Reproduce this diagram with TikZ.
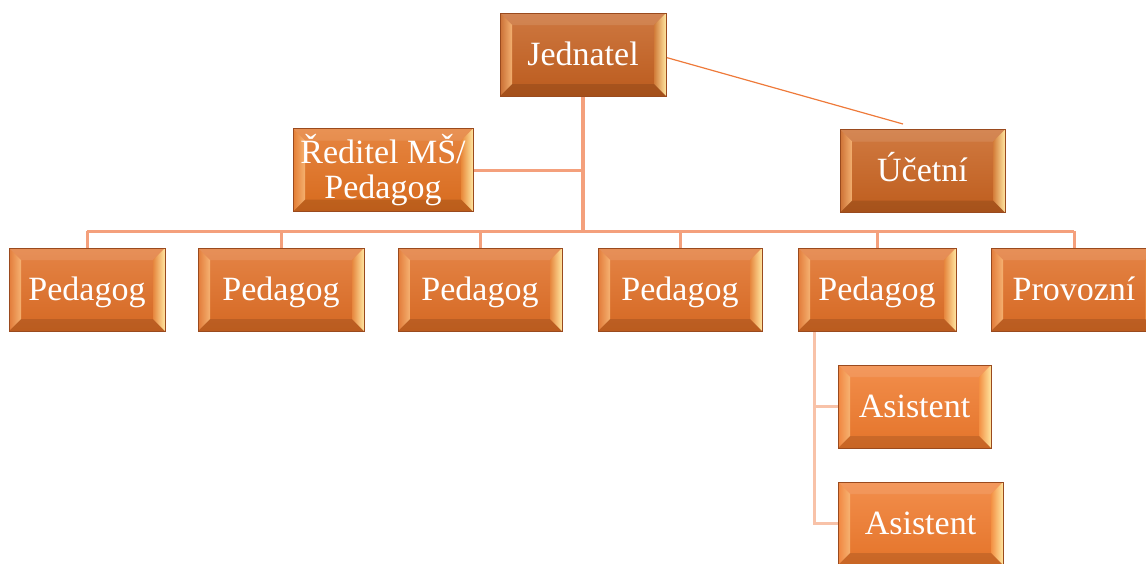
\documentclass[tikz,border=0pt]{standalone}
\usepackage{fontspec}
\setmainfont{Liberation Serif}
\usetikzlibrary{backgrounds}
\definecolor{boxedge}{HTML}{9A4A1E}
\definecolor{linemain}{HTML}{F4A07C}
\definecolor{linelight}{HTML}{F8C2A8}
\definecolor{linediag}{HTML}{EE7A3A}
\definecolor{bevright}{HTML}{FFE6A0}
\definecolor{bevleft}{HTML}{F8B878}
\tikzset{
  orgbox/.style={draw=boxedge, line width=0.8pt, inner sep=0pt, text=white,
    minimum height=83pt, font=\fontsize{34}{35}\selectfont, align=center,
    top color=#1!85!white, bottom color=#1!95!black,
    path picture={
      \coordinate (@nw) at (path picture bounding box.north west);
      \coordinate (@ne) at (path picture bounding box.north east);
      \coordinate (@sw) at (path picture bounding box.south west);
      \coordinate (@se) at (path picture bounding box.south east);
      \fill[white, opacity=0.10] (@nw) -- (@ne) -- ([shift={(-12pt,-12pt)}]@ne) -- ([shift={(12pt,-12pt)}]@nw) -- cycle;
      \shade[left color=#1!90!white, right color=bevleft, opacity=0.9] (@nw) -- ([shift={(12pt,-12pt)}]@nw) -- ([shift={(12pt,12pt)}]@sw) -- (@sw) -- cycle;
      \shade[left color=#1!80!bevright, right color=bevright] (@ne) -- (@se) -- ([shift={(-12pt,12pt)}]@se) -- ([shift={(-12pt,-12pt)}]@ne) -- cycle;
      \fill[black, opacity=0.12] (@sw) -- (@se) -- ([shift={(-12pt,12pt)}]@se) -- ([shift={(12pt,12pt)}]@sw) -- cycle;
    }},
  oneline/.style={text height=25pt, text depth=4pt},
  conn/.style={draw=linemain, line width=3pt},
  connlight/.style={draw=linelight, line width=3pt},
  conndiag/.style={draw=linediag, line width=1.2pt}
}
\definecolor{cJ}{HTML}{C5601F}
\definecolor{cR}{HTML}{E2701F}
\definecolor{cU}{HTML}{C8621F}
\definecolor{cP}{HTML}{E06E25}
\definecolor{cA}{HTML}{F07A2C}
\begin{document}
\begin{tikzpicture}[x=1pt, y=-1pt]
\useasboundingbox (0,0) rectangle (1146,563);
\node[orgbox=cJ, oneline, minimum width=166pt] (J) at (583,54.5) {Jednatel};
\node[orgbox=cR, minimum width=180pt] (R) at (383,170) {Ředitel MŠ/\\Pedagog};
\node[orgbox=cU, oneline, minimum width=165pt] (U) at (922.5,171) {Účetní};
\node[orgbox=cP, oneline, minimum width=156pt] (P1) at (87,289.5) {Pedagog};
\node[orgbox=cP, oneline, minimum width=166pt] (P2) at (281,289.5) {Pedagog};
\node[orgbox=cP, oneline, minimum width=164pt] (P3) at (480,289.5) {Pedagog};
\node[orgbox=cP, oneline, minimum width=164pt] (P4) at (680,289.5) {Pedagog};
\node[orgbox=cP, oneline, minimum width=158pt] (P5) at (877,289.5) {Pedagog};
\node[orgbox=cP, oneline, minimum width=166pt] (P6) at (1074,289.5) {Provozní};
\node[orgbox=cA, oneline, minimum width=153pt] (A1) at (914.5,406.5) {Asistent};
\node[orgbox=cA, oneline, minimum width=165pt] (A2) at (920.5,523.5) {Asistent};
\coordinate (bar) at (583,231);
\coordinate (ucet) at (903,124);
\coordinate (atr) at (814,331);
\begin{scope}[on background layer]
\draw[conn, line width=4pt] (J.south) -- (J.south |- bar);
\draw[conn] (P1.north |- bar) -- (P6.north |- bar);
\foreach \p in {P1,P2,P3,P4,P5,P6} \draw[conn] (\p.north) -- (\p.north |- bar);
\draw[conn] (R.east) -- (R.east -| J.south);
\draw[conndiag] ([yshift=-3pt]J.east) -- (ucet);
\draw[connlight] (atr) -- (atr |- A2.west) -- (A2.west);
\draw[connlight] (atr |- A1.west) -- (A1.west);
\end{scope}
\end{tikzpicture}
\end{document}
